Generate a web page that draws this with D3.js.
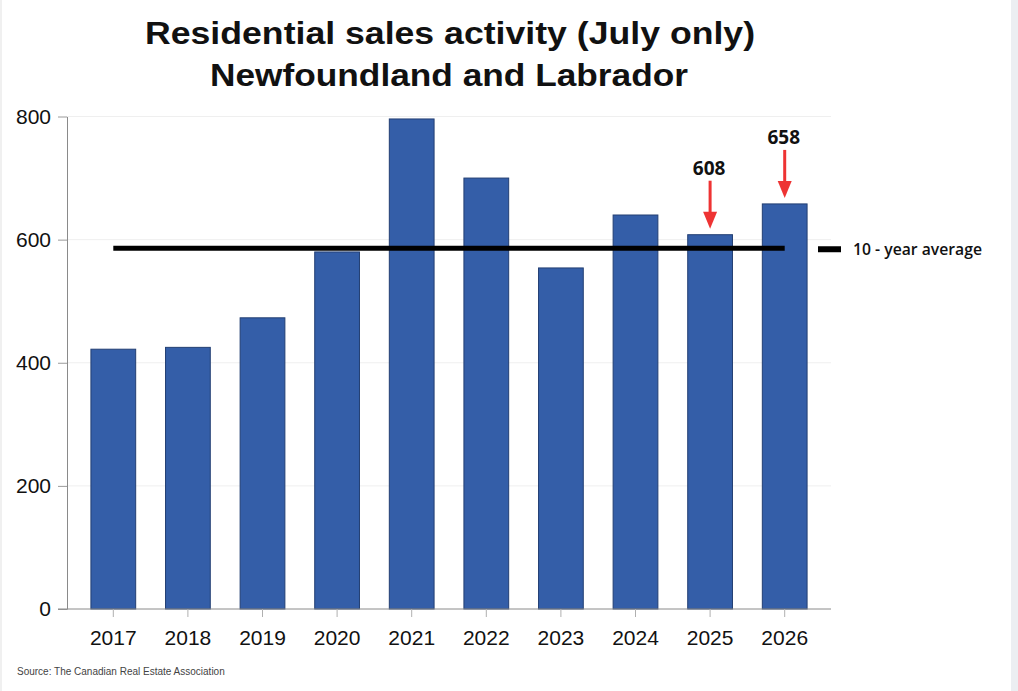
<!DOCTYPE html>
<html>
<head>
<meta charset="utf-8">
<script src="https://cdn.jsdelivr.net/npm/d3@7"></script>
<style>
  html, body { margin: 0; padding: 0; background: #fff; }
  svg { display: block; }
</style>
</head>
<body>
<svg id="chart"></svg>
<script>
// data
var years = ["2017", "2018", "2019", "2020", "2021", "2022", "2023", "2024", "2025", "2026"];
var sales = [422, 425, 473, 580, 796, 700, 554, 640, 608, 658];
var tenYearAverage = 586;
var yTicks = [0, 200, 400, 600, 800];
var calloutYears = ["2025", "2026"];

var width = 1018;
var height = 691;

var svg = d3.select("#chart")
    .attr("width", width)
    .attr("height", height);

// gray band on the right edge and a faint left edge, as in the screenshot
svg.append("rect")
    .attr("x", 1011).attr("y", 0)
    .attr("width", 7).attr("height", height)
    .attr("fill", "#eceef2");
svg.append("rect")
    .attr("x", 0).attr("y", 0)
    .attr("width", 2).attr("height", height)
    .attr("fill", "#f0f0f0");

var x = d3.scaleBand()
    .domain(years)
    .range([76, 822])
    .paddingInner(0.4)
    .paddingOuter(0.2);

var y = d3.scaleLinear()
    .domain([0, 800])
    .range([609, 116.5]);

var axisLeftX = 67;
var axisRightX = 831;

// faint gridlines
svg.append("g")
    .selectAll("line")
    .data(yTicks.filter(d => d > 0))
    .enter()
    .append("line")
        .attr("x1", axisLeftX)
        .attr("x2", axisRightX)
        .attr("y1", d => y(d))
        .attr("y2", d => y(d))
        .attr("stroke", "#efefef")
        .attr("stroke-width", 1);

// bars
svg.append("g")
    .selectAll("rect")
    .data(years)
    .enter()
    .append("rect")
        .attr("x", d => x(d))
        .attr("y", (d, i) => y(sales[i]))
        .attr("width", x.bandwidth())
        .attr("height", (d, i) => y(0) - y(sales[i]))
        .attr("fill", "#345ea8")
        .attr("stroke", "#233f73")
        .attr("stroke-width", 1);

// y axis
var yAxis = svg.append("g")
    .attr("transform", "translate(" + axisLeftX + ",0)")
    .call(d3.axisLeft(y).tickValues(yTicks).tickSize(9).tickPadding(7).tickSizeOuter(0));
yAxis.select(".domain").attr("stroke", "#8a8a8a");
yAxis.selectAll(".tick line").attr("stroke", "#9a9a9a");
yAxis.selectAll(".tick text")
    .attr("fill", "#111")
    .style("font-family", "'Liberation Sans', Arial, sans-serif")
    .style("font-size", "21px");

// x axis
svg.append("line")
    .attr("x1", 58).attr("x2", axisRightX)
    .attr("y1", y(0)).attr("y2", y(0))
    .attr("stroke", "#8a8a8a");

var xAxis = svg.append("g")
    .attr("transform", "translate(0," + y(0) + ")")
    .call(d3.axisBottom(x).tickSize(8).tickPadding(13).tickSizeOuter(0));
xAxis.select(".domain").remove();
xAxis.selectAll(".tick line").attr("stroke", "#b0b0b0");
xAxis.selectAll(".tick text")
    .attr("fill", "#111")
    .style("font-family", "'Liberation Sans', Arial, sans-serif")
    .style("font-size", "21px");

// 10-year average line
svg.append("line")
    .attr("x1", x(years[0]) + x.bandwidth() / 2)
    .attr("x2", x(years[years.length - 1]) + x.bandwidth() / 2)
    .attr("y1", y(tenYearAverage))
    .attr("y2", y(tenYearAverage))
    .attr("stroke", "#000")
    .attr("stroke-width", 5);

// legend for the average
svg.append("line")
    .attr("x1", 818).attr("x2", 841)
    .attr("y1", y(tenYearAverage) + 1).attr("y2", y(tenYearAverage) + 1)
    .attr("stroke", "#000")
    .attr("stroke-width", 6);
svg.append("text")
    .attr("x", 853)
    .attr("y", y(tenYearAverage) + 7)
    .attr("fill", "#111")
    .style("font-family", "'Open Sans', sans-serif")
    .style("font-weight", 600)
    .style("font-size", "15.5px")
    .attr("textLength", 129)
    .attr("lengthAdjust", "spacingAndGlyphs")
    .text("10 - year average");

// red arrows with value callouts
var callouts = svg.append("g")
    .selectAll("g")
    .data(calloutYears)
    .enter()
    .append("g")
        .attr("transform", d => {
            var v = sales[years.indexOf(d)];
            return "translate(" + (x(d) + x.bandwidth() / 2) + "," + (y(v) - 6) + ")";
        });

callouts.append("line")
    .attr("x1", 0).attr("x2", 0)
    .attr("y1", -48).attr("y2", -14)
    .attr("stroke", "#ee3333")
    .attr("stroke-width", 3);
callouts.append("path")
    .attr("d", "M-7,-17 L7,-17 L0,0 Z")
    .attr("fill", "#ee3333");
callouts.append("text")
    .attr("x", -1)
    .attr("y", -54)
    .attr("text-anchor", "middle")
    .attr("fill", "#111")
    .style("font-family", "'Open Sans', sans-serif")
    .style("font-weight", 700)
    .style("font-size", "19px")
    .text(d => sales[years.indexOf(d)]);

// title (the reference looks stretched sideways, so fit each line to its width)
var title = svg.append("text")
    .attr("text-anchor", "middle")
    .attr("fill", "#111")
    .style("font-family", "'Liberation Sans', Arial, sans-serif")
    .style("font-weight", 700)
    .style("font-size", "32px");
title.append("tspan")
    .attr("x", 450).attr("y", 44)
    .attr("textLength", 610).attr("lengthAdjust", "spacingAndGlyphs")
    .text("Residential sales activity (July only)");
title.append("tspan")
    .attr("x", 449).attr("y", 86)
    .attr("textLength", 478).attr("lengthAdjust", "spacingAndGlyphs")
    .text("Newfoundland and Labrador");

// source
svg.append("text")
    .attr("x", 17)
    .attr("y", 675)
    .attr("fill", "#444")
    .style("font-family", "'Liberation Sans', Arial, sans-serif")
    .style("font-size", "10px")
    .text("Source: The Canadian Real Estate Association");
</script>
</body>
</html>
